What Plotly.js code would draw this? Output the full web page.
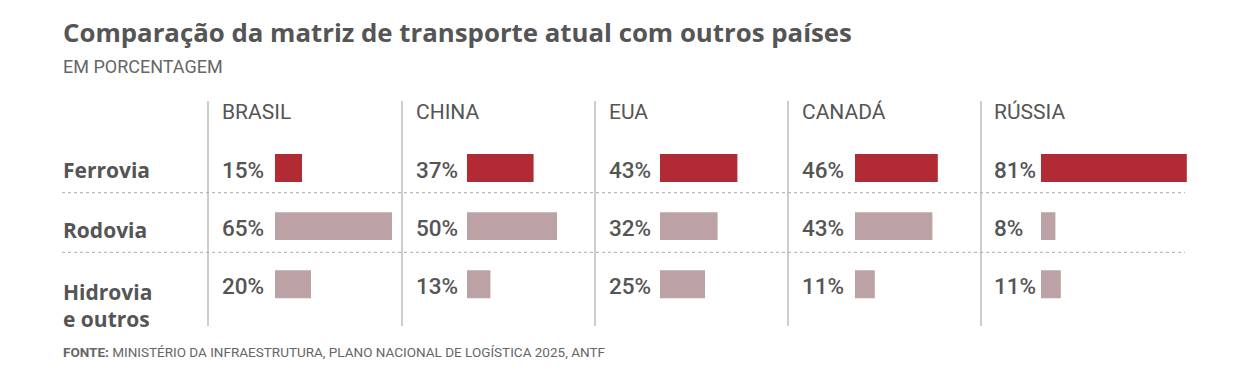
<!DOCTYPE html>
<html>
<head>
<meta charset="utf-8">
<script src="https://cdn.plot.ly/plotly-3.0.1.min.js"></script>
<style>html,body{margin:0;padding:0;background:#fff;}#chart{width:1247px;height:379px;}</style>
</head>
<body>
<div id="chart"></div>
<script>
// ---- data ----
const countries = ['BRASIL', 'CHINA', 'EUA', 'CANADÁ', 'RÚSSIA'];
const modes = ['Ferrovia', 'Rodovia', 'Hidrovia<br>e outros'];
const ferrovia = [15, 37, 43, 46, 81];
const rodovia = [65, 50, 32, 43, 8];
const hidrovia = [20, 13, 25, 11, 11];

const titleText = 'Comparação da matriz de transporte atual com outros países';
const subtitleText = 'EM PORCENTAGEM';
const sourceText = '<b>FONTE:</b> MINISTÉRIO DA INFRAESTRUTURA, PLANO NACIONAL DE LOGÍSTICA 2025, ANTF';

// ---- layout constants (pixels) ----
const W = 1247, H = 379;
const colLine = [208, 402, 595, 788, 981];
const textX = [220, 414, 607, 800, 992];
const barX0 = [275, 467, 660, 855, 1041];
const pxPerPct = 1.8;
const rowTop = 168, rowStep = 58.15;
const RED = '#b22a33', MAUVE = '#bca2a5', TXT = '#555555';
const px = v => v / W;
const py = v => 1 - v / H;

const series = [ferrovia, rodovia, hidrovia];
const barColors = [RED, MAUVE, MAUVE];

const traces = [];
const layout = {
  width: W, height: H,
  margin: {l: 0, r: 0, t: 0, b: 0},
  paper_bgcolor: '#fff', plot_bgcolor: 'rgba(0,0,0,0)',
  showlegend: false,
  font: {family: 'Roboto, sans-serif', color: TXT},
  yaxis: {
    range: [3, -1],
    domain: [py(rowTop + 3 * rowStep), py(rowTop - rowStep)],
    showgrid: false, zeroline: false, showticklabels: false, showline: false, fixedrange: true
  },
  annotations: [],
  shapes: []
};

countries.forEach((c, i) => {
  const axName = i === 0 ? 'x' : 'x' + (i + 1);
  const layName = i === 0 ? 'xaxis' : 'xaxis' + (i + 1);
  traces.push({
    type: 'bar', orientation: 'h',
    x: series.map(s => s[i]),
    y: [0, 1, 2],
    width: 0.48,
    marker: {color: barColors, line: {width: 0}},
    xaxis: axName, yaxis: 'y',
    hoverinfo: 'skip'
  });
  layout[layName] = {
    domain: [px(barX0[i]), px(barX0[i] + 100 * pxPerPct)],
    range: [0, 100], anchor: 'y',
    showgrid: false, zeroline: false, showticklabels: false, showline: false, fixedrange: true
  };
  // column header
  layout.annotations.push({
    xref: 'paper', yref: 'paper', x: px(textX[i]), y: py(111.5),
    xanchor: 'left', yanchor: 'middle', showarrow: false,
    text: c, font: {family: 'Roboto, sans-serif', size: 21, color: TXT}
  });
  // values
  series.forEach((s, r) => {
    layout.annotations.push({
      xref: 'paper', yref: 'y', x: px(textX[i]), y: r, yshift: -2,
      xanchor: 'left', yanchor: 'middle', showarrow: false,
      text: s[i] + '%', font: {family: 'Roboto, sans-serif', size: 22.5, weight: 500, color: TXT}
    });
  });
  // vertical separator
  layout.shapes.push({
    type: 'line', xref: 'paper', yref: 'paper',
    x0: px(colLine[i]), x1: px(colLine[i]), y0: py(101), y1: py(326),
    line: {color: '#bdbdbd', width: 1.5}
  });
});

// row labels
modes.forEach((m, r) => {
  const two = m.indexOf('<br>') >= 0;
  layout.annotations.push({
    xref: 'paper', yref: 'y', x: px(61), y: r, yshift: two ? -21 : (r === 1 ? -4 : -2),
    xanchor: 'left', yanchor: 'middle', align: 'left', showarrow: false,
    text: m, font: {family: 'Open Sans, sans-serif', size: 21, weight: 700, color: TXT}
  });
});

// dotted row separators
[192.7, 252.3].forEach(yy => {
  layout.shapes.push({
    type: 'line', xref: 'paper', yref: 'paper',
    x0: px(62), x1: px(1185), y0: py(yy), y1: py(yy),
    line: {color: '#aaaaaa', width: 1, dash: 'dot'}
  });
});

// title, subtitle, source
layout.annotations.push({
  xref: 'paper', yref: 'paper', x: px(61), y: py(32),
  xanchor: 'left', yanchor: 'middle', showarrow: false,
  text: '<b>' + titleText + '</b>',
  font: {family: 'Open Sans, sans-serif', size: 25.8, color: TXT}
});
layout.annotations.push({
  xref: 'paper', yref: 'paper', x: px(61), y: py(66.5),
  xanchor: 'left', yanchor: 'middle', showarrow: false,
  text: subtitleText,
  font: {family: 'Roboto, sans-serif', size: 18, color: '#666666'}
});
layout.annotations.push({
  xref: 'paper', yref: 'paper', x: px(61), y: py(352),
  xanchor: 'left', yanchor: 'middle', showarrow: false,
  text: sourceText,
  font: {family: 'Roboto, sans-serif', size: 13.5, color: '#666666'}
});

Plotly.newPlot('chart', traces, layout, {displayModeBar: false, staticPlot: true});
</script>
</body>
</html>
